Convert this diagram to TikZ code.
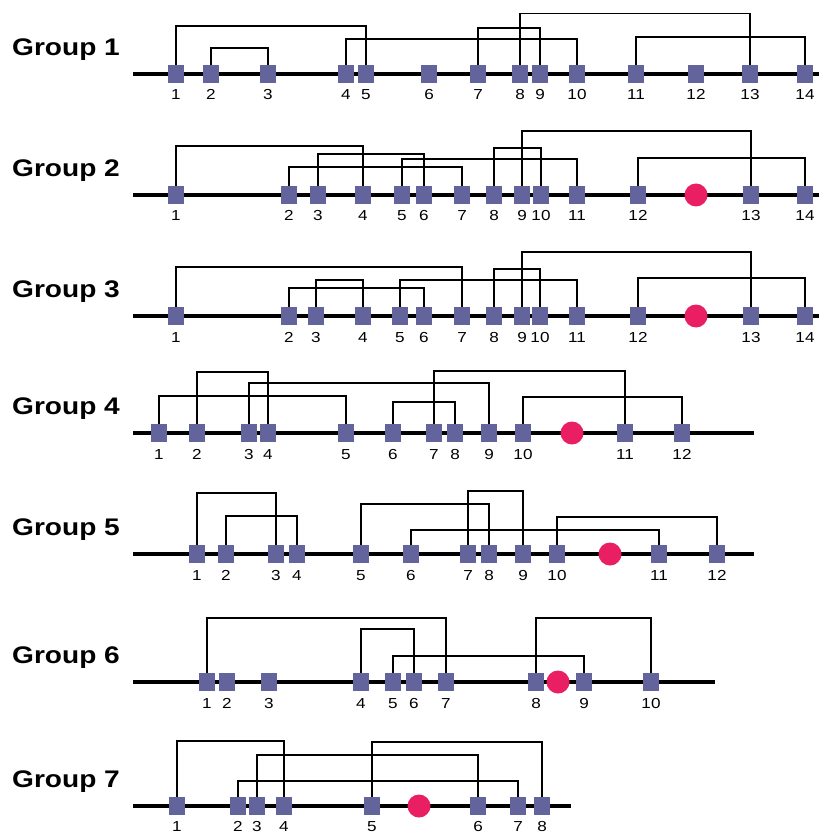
\documentclass[tikz,border=0pt]{standalone}
\usepackage{fontspec}
\setmainfont{Liberation Sans}
\definecolor{boxc}{HTML}{63649C}
\definecolor{dotc}{HTML}{E91E63}
\tikzset{
 axis/.style={line width=4.5pt, black},
 conn/.style={line width=1.8pt, black},
 bx/.style={rectangle, fill=boxc, minimum width=16pt, minimum height=18pt, inner sep=0pt, draw=none},
 dot/.style={circle, fill=dotc, minimum size=23pt, inner sep=0pt, draw=none},
 lbl/.style={inner sep=0pt, anchor=base, font=\fontsize{14.5}{14.5}\selectfont},
 ttl/.style={inner sep=0pt, anchor=base west, font=\fontsize{24}{24}\selectfont\bfseries},
}
\newcommand\mkgroup[5]{%
 \coordinate (g#1s) at (133,#2);
 \coordinate (g#1e) at (#3,#2);
 \draw[axis] (g#1s) -- (g#1e);
 \node[ttl] (g#1t) at (12,#2-18.5) {\scalebox{1.17}[1]{Group #1}};
 \foreach \i/\x in {#4} {
   \node[bx] (g#1b\i) at (\x,#2) {};
   \node[lbl] (g#1l\i) at (\x,#2+#5) {\scalebox{1.18}[1]{\i}};
 }
}
\newcommand\lnk[4]{\draw[conn] (g#1b#2.north) -- (g#1b#2 |- 0,#4) -- (g#1b#3 |- 0,#4) -- (g#1b#3.north);}
\begin{document}
\begin{tikzpicture}[x=1pt,y=-1pt]
\useasboundingbox (0,0) rectangle (819,834);
\clip (0,0) rectangle (819,834);
% Group 1
\mkgroup{1}{74}{819}{1/176,2/211,3/268,4/346,5/366,6/429,7/478,8/520,9/540,10/577,11/636,12/696,13/750,14/805}{26}
\lnk{1}{1}{5}{26}
\lnk{1}{2}{3}{48}
\lnk{1}{4}{10}{39}
\lnk{1}{7}{9}{28}
\lnk{1}{8}{13}{13.5}
\lnk{1}{11}{14}{37}
% Group 2
\mkgroup{2}{195}{819}{1/176,2/289,3/318,4/363,5/402,6/424,7/462,8/494,9/522,10/541,11/577,12/638,13/751,14/805}{26}
\node[dot] (g2r) at (696,195) {};
\lnk{2}{9}{13}{131}
\lnk{2}{1}{4}{146}
\lnk{2}{8}{10}{148}
\lnk{2}{3}{6}{154}
\lnk{2}{5}{11}{159}
\lnk{2}{12}{14}{158}
\lnk{2}{2}{7}{167}
% Group 3
\mkgroup{3}{316}{819}{1/176,2/289,3/316,4/363,5/400,6/424,7/462,8/494,9/522,10/540,11/577,12/638,13/751,14/805}{26}
\node[dot] (g3r) at (696,316) {};
\lnk{3}{9}{13}{252}
\lnk{3}{1}{7}{267}
\lnk{3}{8}{10}{269}
\lnk{3}{3}{4}{280}
\lnk{3}{5}{11}{280}
\lnk{3}{12}{14}{278}
\lnk{3}{2}{6}{288}
% Group 4
\mkgroup{4}{433}{754}{1/159,2/197,3/249,4/268,5/346,6/393,7/434,8/455,9/489,10/523,11/625,12/682}{26}
\node[dot] (g4r) at (572,433) {};
\lnk{4}{2}{4}{372}
\lnk{4}{7}{11}{371}
\lnk{4}{3}{9}{383}
\lnk{4}{1}{5}{396}
\lnk{4}{6}{8}{402}
\lnk{4}{10}{12}{397}
% Group 5
\mkgroup{5}{554}{754}{1/197,2/226,3/276,4/297,5/361,6/411,7/468,8/489,9/523,10/557,11/659,12/717}{26}
\node[dot] (g5r) at (610,554) {};
\lnk{5}{1}{3}{493}
\lnk{5}{2}{4}{516}
\lnk{5}{7}{9}{491}
\lnk{5}{5}{8}{504}
\lnk{5}{10}{12}{517}
\lnk{5}{6}{11}{530}
% Group 6
\mkgroup{6}{682}{715}{1/207,2/227,3/269,4/361,5/393,6/414,7/446,8/536,9/584,10/651}{26}
\node[dot] (g6r) at (558,682) {};
\lnk{6}{1}{7}{618}
\lnk{6}{4}{6}{629}
\lnk{6}{8}{10}{618}
\lnk{6}{5}{9}{656}
% Group 7
\mkgroup{7}{806}{571}{1/177,2/238,3/257,4/284,5/372,6/478,7/518,8/542}{25}
\node[dot] (g7r) at (419,806) {};
\lnk{7}{1}{4}{741}
\lnk{7}{5}{8}{742}
\lnk{7}{3}{6}{755}
\lnk{7}{2}{7}{781}
\end{tikzpicture}
\end{document}
